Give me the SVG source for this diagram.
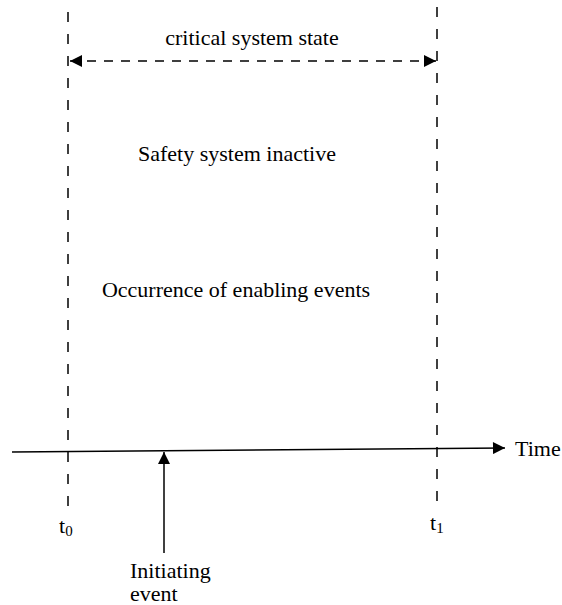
<svg xmlns="http://www.w3.org/2000/svg" width="562" height="605" viewBox="0 0 562 605">
<style>
text{font-family:"Liberation Serif","Times New Roman",serif;font-size:22px;fill:#000}
.sub{font-size:15px}
.vd{stroke:#000;stroke-width:1.5;stroke-dasharray:10 12;fill:none}
.hd{stroke:#000;stroke-width:1.5;stroke-dasharray:9 8;fill:none}
.ln{stroke:#000;stroke-width:1.5;fill:none}
</style>
<defs>
<marker id="ah" viewBox="0 0 10 10" refX="10" refY="5" markerWidth="18" markerHeight="12" markerUnits="userSpaceOnUse" orient="auto-start-reverse">
<path d="M0,0 L10,5 L0,10 Z" fill="#000"/>
</marker>
</defs>
<g id="connectors">
<line class="vd" x1="68" y1="12" x2="68" y2="512"/>
<line class="vd" x1="437" y1="7" x2="437" y2="512"/>
<line class="hd" x1="70" y1="61" x2="436" y2="61" marker-start="url(#ah)" marker-end="url(#ah)"/>
<line class="ln" x1="12" y1="452" x2="505" y2="448" marker-end="url(#ah)"/>
<line class="ln" x1="164" y1="553" x2="164" y2="452" marker-end="url(#ah)"/>
</g>
<g id="label-critical"><text x="252" y="45" text-anchor="middle">critical system state</text></g>
<g id="label-safety"><text x="237" y="161" text-anchor="middle">Safety system inactive</text></g>
<g id="label-occurrence"><text x="236" y="297" text-anchor="middle">Occurrence of enabling events</text></g>
<g id="label-time"><text x="515" y="456">Time</text></g>
<g id="label-t0"><text x="59" y="533">t<tspan class="sub" dy="3">0</tspan></text></g>
<g id="label-t1"><text x="430" y="530">t<tspan class="sub" dy="3">1</tspan></text></g>
<g id="label-initiating"><text x="130" y="578">Initiating</text><text x="130" y="601">event</text></g>
</svg>
